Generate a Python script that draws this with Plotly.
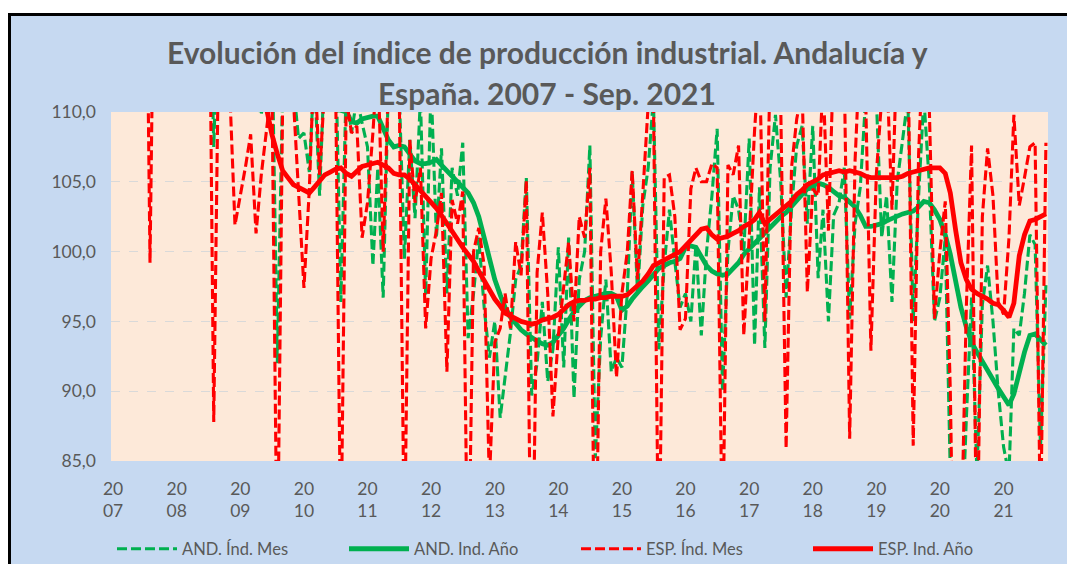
import pandas as pd
import plotly.graph_objects as go

# ---------------- data ----------------
MESES = pd.date_range("2007-01-01", periods=177, freq="MS")

AND_MES = [
    125.0, 128.0, 135.0, 126.0, 134.0, 133.0, 132.0, 114.0, 130.0, 134.0, 131.0, 122.0,   # 2007
    126.0, 128.0, 127.0, 126.0, 128.0, 124.0, 126.0, 107.5, 120.0, 118.0, 114.0, 112.0,   # 2008
    112.0, 114.0, 117.0, 111.0, 109.8, 113.0, 116.0, 92.0, 112.0, 115.0, 112.0, 108.1,    # 2009
    108.5, 105.7, 113.0, 104.0, 114.0, 113.0, 115.0, 96.4, 112.0, 108.5, 111.0, 109.2,    # 2010
    107.5, 99.0, 106.0, 96.7, 112.0, 113.0, 112.0, 99.5, 108.0, 102.4, 111.0, 96.9,       # 2011
    112.0, 101.0, 107.4, 97.0, 106.0, 104.0, 107.8, 93.8, 97.0, 101.0, 96.0, 92.4,        # 2012
    95.0, 88.1, 91.0, 94.2, 98.0, 99.0, 105.3, 89.7, 92.0, 96.4, 90.7, 93.0,              # 2013
    100.3, 91.7, 101.0, 89.5, 98.0, 100.0, 107.6, 85.2, 93.8, 98.0, 91.4, 92.4,           # 2014
    91.7, 97.0, 105.7, 97.0, 103.3, 106.0, 111.0, 93.0, 99.0, 103.0, 99.3, 96.0,          # 2015
    97.0, 95.0, 100.5, 94.0, 100.0, 104.0, 108.8, 90.0, 100.0, 104.0, 103.0, 100.0,       # 2016
    108.1, 93.3, 104.6, 93.1, 106.0, 109.8, 105.0, 96.7, 103.0, 107.6, 109.0, 102.0,      # 2017
    109.0, 98.1, 103.0, 95.0, 102.6, 103.5, 106.0, 95.2, 102.0, 104.6, 111.0, 111.0,      # 2018
    111.0, 101.0, 104.0, 96.4, 105.0, 108.0, 111.0, 95.0, 104.0, 111.0, 105.0, 95.0,      # 2019
    96.7, 101.0, 84.0, 70.0, 78.0, 88.0, 96.7, 84.0, 96.2, 99.0, 95.0, 90.0,              # 2020
    86.0, 84.0, 94.5, 94.0, 97.0, 101.2, 100.5, 85.9, 97.6,                               # 2021
]

AND_ANO = [
    128.0, 128.5, 129.0, 129.5, 130.0, 130.3, 130.5, 130.6, 130.7, 130.8, 130.8, 130.6,
    130.2, 129.5, 128.8, 128.0, 127.2, 126.3, 125.3, 124.2, 123.0, 121.8, 120.5, 119.2,
    118.0, 116.8, 115.6, 114.6, 113.8, 113.0, 112.5, 112.0, 111.7, 111.4, 111.2, 111.0,
    110.9, 110.8, 110.7, 110.6, 110.5, 110.4, 110.3, 110.2, 110.0, 109.3, 109.2, 109.5,
    109.6, 109.7, 109.7, 108.9, 108.0, 107.5, 107.6, 107.5, 107.0, 106.5, 106.3, 106.3,
    106.4, 106.6, 106.2, 105.8, 105.5, 105.0, 104.6, 104.2, 103.5, 102.5, 101.0, 99.5,
    98.0, 96.9, 96.0, 95.3, 94.8, 94.4, 94.1, 93.8, 93.6, 93.4, 93.3, 93.5,
    94.0, 94.5, 95.1, 95.7, 96.1, 96.5, 96.7, 96.8, 96.9, 97.0, 97.0, 96.8,
    95.8, 96.1, 96.6, 97.1, 97.5, 97.9, 98.3, 98.8, 99.0, 99.2, 99.3, 99.5,
    100.3, 100.4, 100.3, 99.6, 99.0, 98.6, 98.4, 98.3, 98.4, 98.8, 99.2, 99.8,
    100.2, 100.6, 101.0, 101.4, 101.8, 102.2, 102.5, 102.8, 103.2, 103.7, 104.1, 104.5,
    104.7, 104.9, 104.8, 104.6, 104.3, 104.0, 103.9, 103.5, 103.2, 102.6, 101.8, 101.8,
    101.9, 102.0, 102.2, 102.4, 102.5, 102.7, 102.8, 102.9, 103.2, 103.6, 103.5, 103.0,
    102.3, 101.2, 99.8, 97.8, 96.0, 94.6, 93.5, 92.8, 92.1, 91.4, 90.8, 90.2,
    89.6, 89.0, 89.8, 91.4, 92.8, 94.0, 94.1, 93.7, 93.3,
]

ESP_MES = [
    124.0, 129.5, 139.0, 122.0, 138.0, 137.0, 134.0, 99.2, 130.0, 136.0, 133.0, 113.0,   # 2007
    123.0, 128.0, 126.0, 128.0, 130.0, 124.0, 128.0, 87.8, 118.0, 117.0, 111.5, 101.9,   # 2008
    104.0, 106.2, 108.4, 101.3, 105.5, 109.0, 112.0, 76.0, 111.0, 114.0, 111.0, 104.3,   # 2009
    97.4, 104.5, 114.0, 105.5, 112.0, 111.0, 113.0, 78.0, 111.0, 108.5, 109.0, 101.0,    # 2010
    103.5, 108.5, 114.0, 100.0, 112.0, 111.0, 113.0, 78.0, 108.0, 103.5, 106.0, 94.5,    # 2011
    99.5, 101.5, 104.2, 91.4, 103.7, 102.0, 104.3, 74.0, 100.0, 101.7, 99.0, 83.5,       # 2012
    93.5, 94.5, 97.0, 94.5, 100.7, 98.3, 105.1, 72.0, 98.5, 102.8, 97.0, 88.2,           # 2013
    94.0, 97.5, 100.7, 95.0, 102.5, 101.0, 106.0, 73.0, 100.0, 103.8, 98.5, 91.0,        # 2014
    97.0, 100.0, 105.8, 98.0, 104.0, 110.5, 111.0, 76.0, 105.3, 105.5, 102.5, 94.4,      # 2015
    95.2, 104.5, 106.0, 105.0, 105.0, 106.3, 106.0, 78.0, 106.2, 105.5, 107.6, 94.0,     # 2016
    101.0, 108.7, 114.0, 95.0, 113.0, 111.5, 110.5, 85.9, 106.0, 109.5, 111.5, 97.1,     # 2017
    104.5, 104.0, 112.5, 101.5, 114.0, 112.5, 113.0, 86.6, 106.5, 115.0, 111.0, 92.9,    # 2018
    105.5, 111.0, 113.5, 103.0, 115.0, 111.0, 115.5, 86.1, 107.0, 116.0, 110.5, 95.2,    # 2019
    100.0, 103.6, 90.0, 66.0, 78.0, 96.0, 107.6, 77.0, 102.5, 107.4, 104.0, 96.4,        # 2020
    95.5, 101.0, 109.8, 103.3, 105.3, 107.5, 107.8, 80.0, 107.8,                         # 2021
]

ESP_ANO = [
    127.5, 127.8, 128.0, 128.2, 128.4, 128.6, 128.8, 129.0, 129.1, 129.2, 129.3, 129.3,
    129.2, 129.0, 128.5, 128.3, 127.6, 127.0, 126.2, 125.4, 124.5, 123.0, 121.5, 119.8,
    118.0, 116.3, 114.7, 113.2, 111.8, 110.2, 108.4, 107.0, 105.8, 105.3, 104.8, 104.6,
    104.4, 104.2, 104.6, 105.1, 105.5, 105.7, 105.9, 106.0, 105.6, 105.4, 105.8, 106.1,
    106.2, 106.3, 106.4, 106.2, 106.0, 105.6, 105.5, 105.5, 105.2, 104.8, 104.4, 104.0,
    103.6, 103.1, 102.6, 102.0, 101.4, 100.9, 100.3, 99.8, 99.3, 98.6, 97.9, 97.2,
    96.6, 96.1, 95.6, 95.4, 95.2, 95.0, 94.9, 94.8, 94.9, 95.1, 95.2, 95.3,
    95.5, 95.9, 96.2, 96.4, 96.5, 96.5, 96.6, 96.6, 96.7, 96.7, 96.8, 96.8,
    96.8, 96.9, 97.2, 97.5, 97.9, 98.4, 99.0, 99.2, 99.4, 99.6, 99.8, 100.0,
    100.4, 100.8, 101.2, 101.6, 101.7, 101.2, 100.9, 101.0, 101.1, 101.3, 101.5, 101.8,
    102.0, 102.3, 102.8, 102.0, 102.3, 102.6, 102.9, 103.2, 103.6, 104.1, 104.4, 104.8,
    105.0, 105.2, 105.5, 105.6, 105.7, 105.8, 105.7, 105.8, 105.7, 105.6, 105.4, 105.3,
    105.3, 105.3, 105.3, 105.3, 105.3, 105.4, 105.6, 105.7, 105.8, 105.9, 106.0, 106.0,
    106.0, 105.6, 104.2, 101.5, 99.2, 98.0, 97.3, 97.0, 96.8, 96.6, 96.3, 96.2,
    95.8, 95.3, 96.3, 99.7, 101.2, 102.2, 102.3, 102.5, 102.7,
]

ANIOS = list(range(2007, 2022))
TICK_VALS = [pd.Timestamp(f"{a}-01-01") for a in ANIOS]
TICK_TEXT = [f"{str(a)[:2]}<br>{str(a)[2:]}" for a in ANIOS]
Y_TICKS = [85, 90, 95, 100, 105, 110]

TITULO_1 = "Evolución del índice de producción industrial. Andalucía y"
TITULO_2 = "España. 2007 - Sep. 2021"

# ---------------- style ----------------
GREEN = "#00B050"
RED = "#FF0000"
TXT = "#595959"
FONT = "Lato"
DASH = "10px,4px"

fig = go.Figure()
fig.add_trace(go.Scatter(x=MESES, y=AND_MES, mode="lines", name="AND. Índ. Mes",
                         line=dict(color=GREEN, width=3.1, dash=DASH)))
fig.add_trace(go.Scatter(x=MESES, y=AND_ANO, mode="lines", name="AND. Ind. Año",
                         line=dict(color=GREEN, width=4.8)))
fig.add_trace(go.Scatter(x=MESES, y=ESP_MES, mode="lines", name="ESP. Índ. Mes",
                         line=dict(color=RED, width=3.1, dash=DASH)))
fig.add_trace(go.Scatter(x=MESES, y=ESP_ANO, mode="lines", name="ESP. Ind. Año",
                         line=dict(color=RED, width=4.8)))

# the page body margin is removed (post_script below): figure starts at page (0, 0)
W, H = 1067, 564
ML, MR, MT, MB = 111, 19, 112, 103
PW, PH = W - ML - MR, H - MT - MB


def px(xp):
    """page x pixel -> paper x"""
    return (xp - ML) / PW


def py(yp):
    """page y pixel -> paper y"""
    return (H - MB - yp) / PH


fig.update_layout(
    width=W, height=H,
    margin=dict(l=ML, r=MR, t=MT, b=MB, autoexpand=False),
    paper_bgcolor="#C6D9F1",
    plot_bgcolor="#FDE9D9",
    separators=",.",
    font=dict(family=FONT, color=TXT, size=17),
    showlegend=True,
    legend=dict(orientation="h", x=px(112), y=py(549), xanchor="left", yanchor="middle",
                font=dict(family=FONT, color=TXT, size=16.5),
                bgcolor="rgba(0,0,0,0)", entrywidth=157, entrywidthmode="pixels",
                itemwidth=60, traceorder="normal"),
    xaxis=dict(
        range=[pd.Timestamp("2006-12-20"), pd.Timestamp("2021-09-13")],
        tickvals=TICK_VALS, ticktext=TICK_TEXT,
        showgrid=False, zeroline=False, showline=False, ticks="",
        tickfont=dict(family=FONT, color=TXT, size=17.5),
        ticklabelstandoff=15,
    ),
    yaxis=dict(
        range=[85, 110], tickvals=Y_TICKS, tickformat=".1f",
        showgrid=True, gridcolor="#D9D9D9", gridwidth=1, griddash="dash",
        zeroline=False, showline=False, ticks="",
        tickfont=dict(family=FONT, color=TXT, size=17.5),
        ticklabelstandoff=14,
    ),
    annotations=[
        dict(text=f"<b>{TITULO_1}</b>", xref="paper", yref="paper", x=px(547), y=py(52),
             xanchor="center", yanchor="middle", showarrow=False,
             font=dict(family=FONT, size=30, color=TXT)),
        dict(text=f"<b>{TITULO_2}</b>", xref="paper", yref="paper", x=px(547), y=py(93),
             xanchor="center", yanchor="middle", showarrow=False,
             font=dict(family=FONT, size=30, color=TXT)),
    ],
    shapes=[
        # white page area outside the chart frame (left and top strips)
        dict(type="rect", xref="paper", yref="paper", x0=px(-50), x1=px(8), y0=py(700), y1=py(-50),
             fillcolor="white", line=dict(width=0), layer="below"),
        dict(type="rect", xref="paper", yref="paper", x0=px(-50), x1=px(1200), y0=py(13), y1=py(-50),
             fillcolor="white", line=dict(width=0), layer="below"),
        # black chart frame (left and top edges visible)
        dict(type="line", xref="paper", yref="paper", x0=px(9.5), x1=px(9.5), y0=py(650), y1=py(13),
             line=dict(color="black", width=3), layer="above"),
        dict(type="line", xref="paper", yref="paper", x0=px(8), x1=px(1150), y0=py(14.5), y1=py(14.5),
             line=dict(color="black", width=3), layer="above"),
    ],
)

fig.write_html(
    "out.html",
    config={"displayModeBar": False},
    post_script="document.body.style.margin='0';"
                "document.documentElement.style.overflow='hidden';"
                "document.body.style.overflow='hidden';",
)
